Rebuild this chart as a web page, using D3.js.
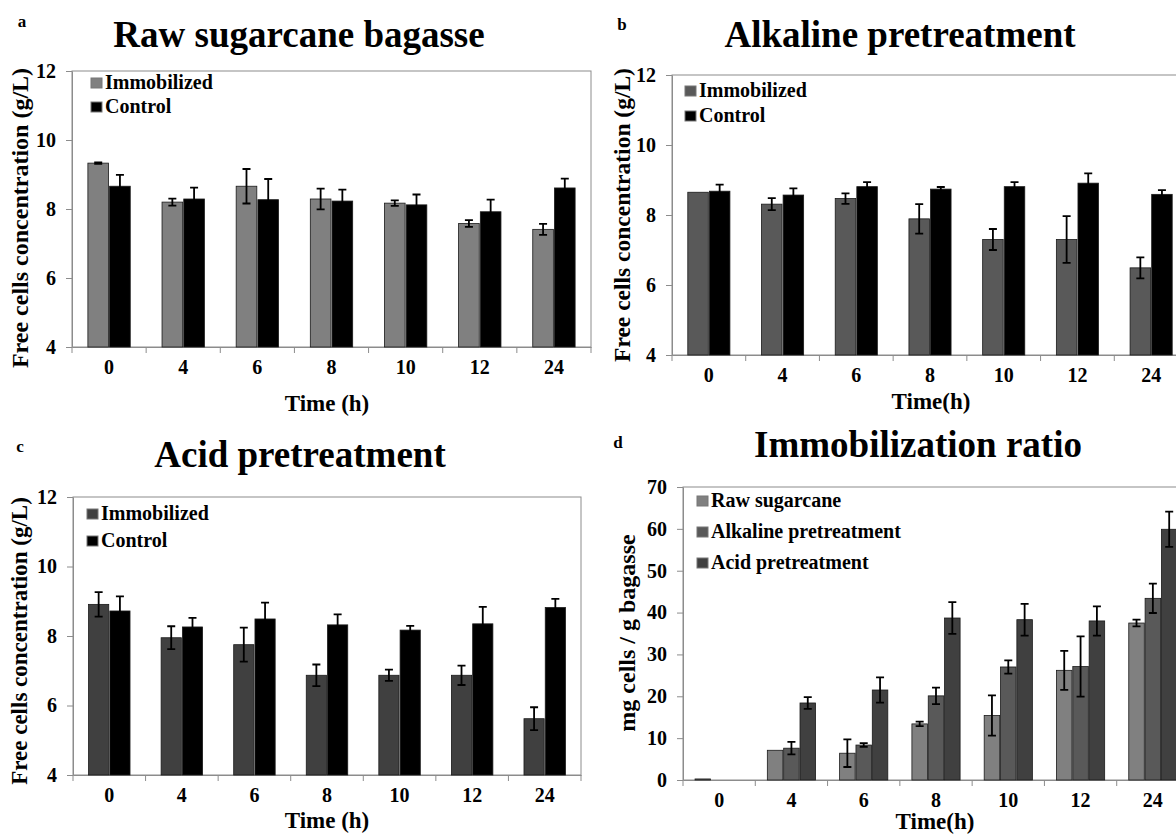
<!DOCTYPE html>
<html>
<head>
<meta charset="utf-8">
<script src="https://cdnjs.cloudflare.com/ajax/libs/d3/7.8.5/d3.min.js"></script>
<style>
  body { margin: 0; background: #fff; }
  .frame { fill: none; stroke: #8c8c8c; stroke-width: 1; }
  .axis path, .axis line { stroke: #8c8c8c; }
</style>
</head>
<body>
<div id="chart"></div>
<script>
// time points (h)
const times = ["0", "4", "6", "8", "10", "12", "24"];

// a: raw sugarcane bagasse, free cells (g/L)
const rawImmobilized = [9.33, 8.20, 8.66, 8.29, 8.17, 7.58, 7.41];
const rawImmobilizedErr = [0.02, 0.10, 0.50, 0.30, 0.08, 0.10, 0.16];
const rawControl = [8.66, 8.29, 8.27, 8.23, 8.12, 7.92, 8.61];
const rawControlErr = [0.33, 0.33, 0.60, 0.33, 0.30, 0.35, 0.27];

// b: alkaline pretreatment
const alkImmobilized = [8.65, 8.31, 8.47, 7.89, 7.30, 7.30, 6.49];
const alkImmobilizedErr = [0, 0.17, 0.15, 0.42, 0.30, 0.67, 0.30];
const alkControl = [8.68, 8.57, 8.81, 8.74, 8.81, 8.91, 8.59];
const alkControlErr = [0.19, 0.19, 0.13, 0.06, 0.13, 0.28, 0.12];

// c: acid pretreatment
const acidImmobilized = [8.91, 7.95, 7.75, 6.87, 6.87, 6.87, 5.62];
const acidImmobilizedErr = [0.35, 0.33, 0.49, 0.31, 0.16, 0.28, 0.33];
const acidControl = [8.72, 8.26, 8.49, 8.32, 8.17, 8.35, 8.82];
const acidControlErr = [0.42, 0.26, 0.47, 0.30, 0.12, 0.49, 0.25];

// d: immobilization ratio (mg cells / g bagasse)
const ratioRaw = [0.25, 7.1, 6.4, 13.4, 15.4, 26.2, 37.5];
const ratioRawErr = [0, 0, 3.3, 0.55, 4.8, 4.65, 0.8];
const ratioAlk = [0, 7.6, 8.35, 20.1, 27.0, 27.1, 43.4];
const ratioAlkErr = [0, 1.5, 0.45, 1.95, 1.6, 7.2, 3.5];
const ratioAcid = [0, 18.4, 21.5, 38.7, 38.3, 38.0, 59.9];
const ratioAcidErr = [0, 1.4, 3.0, 3.8, 3.8, 3.5, 4.2];

const freeTicks = [4, 6, 8, 10, 12];
const ratioTicks = [0, 10, 20, 30, 40, 50, 60, 70];

const svg = d3.select("#chart").append("svg")
    .attr("width", 1176)
    .attr("height", 836);

// layout of the four panels (plot area box, titles, legend)
const panels = [
  { letter: "a", letterX: 22, letterY: 27,
    title: "Raw sugarcane bagasse", titleX: 299, titleY: 47,
    box: { left: 72, top: 71, right: 591, bottom: 347 },
    yDomain: [4, 12], yTicks: freeTicks,
    yTitle: "Free cells concentration  (g/L)", yTitleX: 20, yTitleY: 218, yTitleSize: 24,
    xTitle: "Time (h)", xTitleX: 327, xTitleY: 411,
    legendX: 91, legendY: 89, legendStep: 24,
    series: [
      { name: "Immobilized", values: rawImmobilized, err: rawImmobilizedErr, color: "#808080" },
      { name: "Control", values: rawControl, err: rawControlErr, color: "#000000" } ] },
  { letter: "b", letterX: 622, letterY: 30,
    title: "Alkaline pretreatment", titleX: 900, titleY: 47,
    box: { left: 672, top: 75, right: 1188, bottom: 355 },
    yDomain: [4, 12], yTicks: freeTicks,
    yTitle: "Free cells concentration  (g/L)", yTitleX: 622, yTitleY: 215, yTitleSize: 23.5,
    xTitle: "Time(h)", xTitleX: 931, xTitleY: 409,
    legendX: 685, legendY: 97, legendStep: 25,
    series: [
      { name: "Immobilized", values: alkImmobilized, err: alkImmobilizedErr, color: "#595959" },
      { name: "Control", values: alkControl, err: alkControlErr, color: "#000000" } ] },
  { letter: "c", letterX: 20, letterY: 452,
    title: "Acid pretreatment", titleX: 300, titleY: 467,
    box: { left: 73, top: 497, right: 581, bottom: 775 },
    yDomain: [4, 12], yTicks: freeTicks,
    yTitle: "Free cells concentration (g/L)", yTitleX: 19, yTitleY: 641, yTitleSize: 23,
    xTitle: "Time (h)", xTitleX: 327, xTitleY: 828,
    legendX: 87, legendY: 520, legendStep: 27,
    series: [
      { name: "Immobilized", values: acidImmobilized, err: acidImmobilizedErr, color: "#404040" },
      { name: "Control", values: acidControl, err: acidControlErr, color: "#000000" } ] },
  { letter: "d", letterX: 618, letterY: 448,
    title: "Immobilization ratio", titleX: 918, titleY: 457,
    box: { left: 683, top: 487, right: 1189, bottom: 780 },
    yDomain: [0, 70], yTicks: ratioTicks,
    yTitle: "mg cells / g bagasse", yTitleX: 627, yTitleY: 633, yTitleSize: 24,
    xTitle: "Time(h)", xTitleX: 935, xTitleY: 829,
    legendX: 697, legendY: 507, legendStep: 31,
    series: [
      { name: "Raw sugarcane", values: ratioRaw, err: ratioRawErr, color: "#808080" },
      { name: "Alkaline pretreatment", values: ratioAlk, err: ratioAlkErr, color: "#595959" },
      { name: "Acid pretreatment", values: ratioAcid, err: ratioAcidErr, color: "#404040" } ] }
];

panels.forEach(drawPanel);

// serif bold everywhere (set inline, the axis sets its own font attrs)
svg.selectAll("text")
    .style("font-family", '"Liberation Serif", "Times New Roman", serif')
    .style("font-weight", "bold")
    .attr("fill", "#000");

function drawPanel(p) {
    const g = svg.append("g");
    const b = p.box;
    const n = p.series.length;

    // Excel style: gap width 150% of one bar
    const pad = 1.5 / (n + 1.5);
    const x0 = d3.scaleBand().domain(times).range([b.left, b.right])
        .paddingInner(pad).paddingOuter(pad / 2);
    const x1 = d3.scaleBand().domain(d3.range(n)).range([0, x0.bandwidth()]).paddingInner(0.05);
    const y = d3.scaleLinear().domain(p.yDomain).range([b.bottom, b.top]);

    // plot area border
    g.append("rect").attr("class", "frame")
        .attr("x", b.left).attr("y", b.top)
        .attr("width", b.right - b.left).attr("height", b.bottom - b.top);

    // y axis
    g.append("g").attr("class", "axis")
        .attr("transform", `translate(${b.left},0)`)
        .call(d3.axisLeft(y).tickValues(p.yTicks).tickSize(6).tickSizeOuter(0).tickPadding(10))
        .attr("font-size", 20);

    // x axis: labels at centres, tick marks between categories
    g.append("g").attr("class", "axis")
        .attr("transform", `translate(0,${b.bottom})`)
        .call(d3.axisBottom(x0).tickSize(0).tickSizeOuter(0).tickPadding(13))
        .attr("font-size", 20);
    g.selectAll(".sep").data(d3.range(times.length + 1)).enter()
        .append("line")
        .attr("x1", i => b.left + i * x0.step())
        .attr("x2", i => b.left + i * x0.step())
        .attr("y1", b.bottom).attr("y2", b.bottom + 6)
        .attr("stroke", "#8c8c8c");

    // bars
    p.series.forEach((s, si) => {
        const sg = g.append("g");
        sg.selectAll("rect").data(s.values).enter()
            .append("rect")
            .attr("x", (d, i) => x0(times[i]) + x1(si))
            .attr("y", d => y(d))
            .attr("width", x1.bandwidth())
            .attr("height", d => y(p.yDomain[0]) - y(d))
            .attr("fill", s.color)
            .attr("stroke", "#1a1a1a")
            .attr("stroke-width", 0.8);

        // error bars
        const eb = s.values.map((v, i) => ({ v: v, e: s.err[i], i: i })).filter(d => d.e > 0);
        const cx = d => x0(times[d.i]) + x1(si) + x1.bandwidth() / 2;
        sg.selectAll(".err").data(eb).enter().append("path")
            .attr("d", d => `M${cx(d)},${y(d.v + d.e)}V${y(d.v - d.e)}` +
                `M${cx(d) - 4},${y(d.v + d.e)}H${cx(d) + 4}` +
                `M${cx(d) - 4},${y(d.v - d.e)}H${cx(d) + 4}`)
            .attr("stroke", "#000").attr("stroke-width", 1.8).attr("fill", "none");
    });

    // legend
    const lg = g.append("g");
    p.series.forEach((s, si) => {
        const ly = p.legendY + si * p.legendStep;
        lg.append("rect")
            .attr("x", p.legendX).attr("y", ly - 11)
            .attr("width", 11).attr("height", 10)
            .attr("fill", s.color).attr("stroke", "#777").attr("stroke-width", 1);
        lg.append("text")
            .attr("x", p.legendX + 14).attr("y", ly)
            .attr("font-size", 20)
            .text(s.name);
    });

    // titles
    g.append("text").attr("x", p.letterX).attr("y", p.letterY)
        .attr("font-size", 17).attr("text-anchor", "middle").text(p.letter);
    g.append("text").attr("x", p.titleX).attr("y", p.titleY)
        .attr("font-size", 37).attr("text-anchor", "middle").text(p.title);
    g.append("text").attr("x", p.xTitleX).attr("y", p.xTitleY)
        .attr("font-size", 23).attr("text-anchor", "middle").text(p.xTitle);
    g.append("text")
        .attr("transform", `translate(${p.yTitleX},${p.yTitleY}) rotate(-90)`)
        .attr("font-size", p.yTitleSize).attr("text-anchor", "middle")
        .attr("dominant-baseline", "central")
        .text(p.yTitle);
}
</script>
</body>
</html>
